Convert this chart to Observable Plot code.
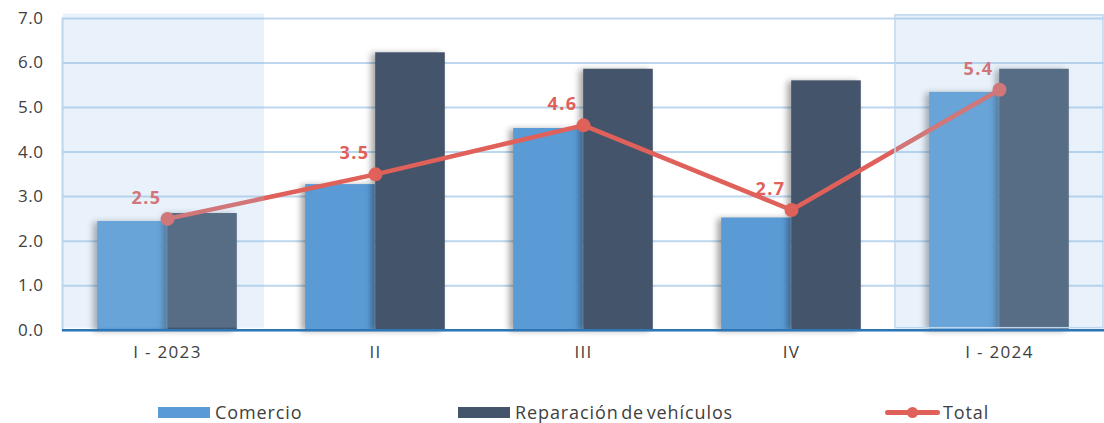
<!DOCTYPE html>
<html>
<head>
<meta charset="utf-8">
<script src="https://cdn.jsdelivr.net/npm/d3@7"></script>
<script src="https://cdn.jsdelivr.net/npm/@observablehq/plot@0.6"></script>
<style>
  html, body { margin: 0; padding: 0; background: #fff; }
  #wrap { position: relative; width: 1104px; height: 423px; font-family: "Open Sans", sans-serif; }
  #legend { position: absolute; left: 0; top: 0; width: 1104px; height: 423px; pointer-events: none; }
  .item { position: absolute; top: 401px; display: flex; align-items: center; font-size: 18px; color: #404040; height: 22px; letter-spacing: 0.9px; word-spacing: -3px; }
  .sw { width: 52px; height: 11px; margin-right: 5px; }
  .ln { position: relative; width: 55px; height: 11px; margin-right: 3px; }
  .ln::before { content: ""; position: absolute; left: 0; right: 0; top: 3px; height: 5px; border-radius: 3px; background: #E0605A; }
  .ln::after { content: ""; position: absolute; left: 22px; top: 0; width: 11px; height: 11px; border-radius: 50%; background: #E0605A; }
</style>
</head>
<body>
<div id="wrap">
  <div id="chart"></div>
  <div id="legend"></div>
</div>
<script>
const categories = ["I - 2023", "II", "III", "IV", "I - 2024"];
const comercio   = [2.44, 3.27, 4.53, 2.52, 5.34];
const reparacion = [2.62, 6.23, 5.86, 5.60, 5.86];
const total      = [2.5, 3.5, 4.6, 2.7, 5.4];
const totalLabels = ["2.5", "3.5", "4.6", "2.7", "5.4"];
const yTicks = [0, 1, 2, 3, 4, 5, 6, 7];
const highlightFirst = ["I - 2023"];
const highlightLast = ["I - 2024"];
const seriesNames = ["Comercio", "Reparación de vehículos", "Total"];

const W = 1104, H = 372, mL = 62, mR = 0, mT = 18, mB = 42.3;
const bw = (W - mL - mR) / categories.length;
const barW = 70;
const outer = (bw - 2 * barW) / 2;

const rows = categories.map((c, i) => ({cat: c, com: comercio[i], rep: reparacion[i], tot: total[i], lab: totalLabels[i]}));

const chart = Plot.plot({
  width: W, height: H,
  marginLeft: mL, marginRight: mR, marginTop: mT, marginBottom: mB,
  style: {fontFamily: "'Open Sans', sans-serif", background: "transparent", overflow: "visible"},
  x: {type: "band", domain: categories, padding: 0},
  y: {domain: [0, 7]},
  marks: [
    Plot.gridY(yTicks, {stroke: "#BDD7EE", strokeOpacity: 1, strokeWidth: 2}),
    Plot.frame({anchor: "left", stroke: "#BDD7EE", strokeWidth: 2}),
    Plot.barY(rows, {x: "cat", y: "com", fill: "#5B9BD5", insetLeft: outer, insetRight: bw / 2}),
    Plot.barY(rows, {x: "cat", y: "rep", fill: "#44546A", insetLeft: bw / 2, insetRight: outer}),
    Plot.ruleY([0], {stroke: "#2E75B6", strokeWidth: 2.5}),
    Plot.line(rows, {x: "cat", y: "tot", stroke: "#E0605A", strokeWidth: 4.5}),
    Plot.dot(rows, {x: "cat", y: "tot", r: 7, fill: "#E0605A"}),
    Plot.text(rows, {x: "cat", y: "tot", text: "lab", dx: -21, dy: -21, fill: "#E0605A", fontSize: 18, fontWeight: "bold", textAnchor: "middle"}),
    Plot.barY(highlightFirst, {x: d => d, y1: 0, y2: 7.1, fill: "#9DC3E6", fillOpacity: 0.22, insetRight: 7, insetBottom: 2}),
    Plot.barY(highlightLast, {x: d => d, y1: 0, y2: 7.07, fill: "#9DC3E6", fillOpacity: 0.22, stroke: "#BDD7EE", strokeWidth: 1.5, insetBottom: 2}),
    Plot.axisY(yTicks, {tickSize: 0, tickPadding: 19, tickFormat: d3.format(".1f"), fontSize: 17, fill: "#404040", label: null}),
    Plot.axisX({tickSize: 0, tickPadding: 16, fontSize: 17, fill: "#404040", label: null})
  ]
});
document.getElementById("chart").appendChild(chart);

// soft drop shadow on bars
d3.select(chart).selectAll('g[aria-label="bar"]').filter((d, i) => i < 2)
  .style("filter", "drop-shadow(-4px 1px 3px rgba(0,0,0,0.35))");
// wider letter spacing to mimic the original geometric font
d3.select(chart).selectAll('g[aria-label="x-axis tick label"] text').style("letter-spacing", "1.3px");
d3.select(chart).selectAll('g[aria-label="y-axis tick label"] text').style("letter-spacing", "0.5px");
d3.select(chart).selectAll('g[aria-label="text"] text').style("letter-spacing", "1.5px");

const legend = document.getElementById("legend");
const items = [
  {name: seriesNames[0], left: 158, kind: "sw", color: "#5B9BD5"},
  {name: seriesNames[1], left: 458, kind: "sw", color: "#44546A"},
  {name: seriesNames[2], left: 885, kind: "ln"}
];
for (const it of items) {
  const d = document.createElement("div");
  d.className = "item";
  d.style.left = it.left + "px";
  const s = document.createElement("span");
  s.className = it.kind;
  if (it.color) s.style.background = it.color;
  d.appendChild(s);
  const t = document.createElement("span");
  t.textContent = it.name;
  d.appendChild(t);
  legend.appendChild(d);
}
</script>
</body>
</html>
